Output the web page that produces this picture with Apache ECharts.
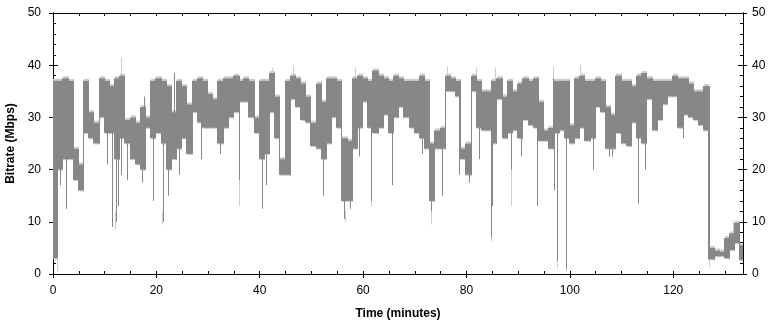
<!DOCTYPE html>
<html>
<head>
<meta charset="utf-8">
<script src="https://cdn.jsdelivr.net/npm/echarts@6.0.0/dist/echarts.min.js"></script>
<style>
html, body { margin: 0; padding: 0; background: #fff; }
#main { width: 775px; height: 324px; }
</style>
</head>
<body>
<div id="main"></div>
<script>
// core band of the bitrate trace per minute (Mbps), minute 0 .. 133
var hiVals = [37, 37, 37.5, 37, 24, 21, 37, 31, 29, 37.5,
  37, 36, 37.5, 38, 29.5, 30, 29, 32, 30, 37,
  37.5, 37, 36, 31, 37, 36, 32.5, 37, 37.5, 37,
  34.5, 33.5, 37, 37.5, 37.5, 38, 37, 37.5, 37, 30,
  37, 37, 38.5, 34, 22, 37, 38, 37.5, 36.5, 34,
  29, 36.5, 33, 37.5, 37.5, 37, 26, 25.5, 37.5, 38,
  37.5, 37, 39, 38, 37.5, 37, 38, 37.5, 37, 37,
  37, 38, 37, 25, 27.5, 28, 38, 37.5, 37, 24,
  25, 38, 37, 35, 35, 37, 37.5, 34, 37, 35,
  36.5, 37.5, 37, 37.5, 33, 27.5, 28, 37, 37, 37,
  28.5, 37.5, 38, 37, 37, 37.5, 37, 32, 30.5, 38,
  37, 37, 36, 38, 38.5, 37.5, 37, 37, 37, 37,
  38, 37.5, 37.5, 36.5, 35, 35, 36, 5, 4.5, 4.3,
  6.9, 7.8, 9.8, 5.5];
var loVals = [3, 20, 22, 22, 18, 16, 27, 26, 25, 30,
  27, 27, 22, 26, 25, 22, 21, 20, 28, 26,
  27, 25, 20, 22, 24, 26, 23, 31, 29, 28,
  28, 28, 25, 28, 30, 31, 33, 33, 30, 27,
  22, 23, 31, 26, 19, 19, 33.5, 32, 29.5, 29,
  24.5, 24, 22, 25, 30, 28, 14, 14, 24, 28,
  33, 28, 27, 28, 30.5, 27, 30, 32, 30, 28,
  27, 26, 24, 14, 24, 24, 35, 35, 34, 22,
  19, 35, 28, 27.5, 27.5, 25, 33.5, 26, 27, 27.5,
  26, 29.5, 28.5, 28, 25.5, 25.5, 24, 27, 27.5, 26,
  25, 26, 28, 25.5, 26, 32, 31, 24, 24, 27,
  25, 24.5, 29, 26, 25, 33.5, 27.5, 29.5, 32.5, 34,
  34, 28, 30.5, 30, 29.5, 28.5, 27.5, 2.8, 3.4, 3.4,
  3, 4.6, 5.9, 2.7];

// narrow drops below the band: time (min), lowest value
var dipTimes = [1.3, 2.5, 10.5, 11.4, 12.2, 12.6, 13.2, 14.3, 17.2, 19.4, 21.2, 22.2, 24.3, 28.6, 32.4, 35.9, 40.4, 41.3, 52.3, 56.3,
  57.5, 59.3, 61.5, 65.6, 71.3, 73.1, 75.3, 78.6, 80.4, 82.5, 84.7, 85.0, 88.6, 90.5, 93.6, 96.9, 97.6, 99.3, 104.5, 107.5,
  108.1, 113.1, 114.5, 121.8, 126.95];
var dipVals = [17, 12.5, 21, 9, 10, 13, 19, 18, 17.5, 14, 10, 15, 19, 22, 23, 18, 12.5, 17, 15, 10.5,
  12.5, 22.5, 14, 17, 23, 12, 15, 19, 17.5, 22, 7, 13, 20, 22.5, 13, 16, 2.5, 1, 20, 22.5,
  22.5, 13.5, 20, 26, 3];

// narrow rises above the band
var riseTimes = [17.6, 23.4, 96.8];
var riseVals = [34, 38.5, 37.5];

// faint light-grey peaks around the trace
var spikeTimes = [0.7, 12.0, 13.1, 21.1, 35.9, 42.3, 46.5, 56.4, 58.5, 61.6, 73.1, 76.2, 81.8, 84.8, 85.6, 88.7, 96.8, 97.6, 99.3, 102, 126.9, 131.5];
var spikeBase  = [5, 12, 37, 12, 18, 37, 37, 12, 37, 15, 13, 37, 37, 8, 37, 20, 37, 3, 2, 37, 3, 7];
var spikeTip   = [0.5, 8.5, 41.5, 9.5, 13, 39.5, 40, 10, 39.5, 13, 9.5, 39.8, 39.5, 6.2, 39.5, 13, 39.8, 1, 0.3, 40, 1.3, 10.3];

var xMajorTicks = [0, 20, 40, 60, 80, 100, 120];
var xMinorTicks = [0, 5, 10, 15, 20, 25, 30, 35, 40, 45, 50, 55, 60, 65, 70, 75, 80, 85, 90, 95, 100, 105, 110, 115, 120, 125, 130];
var xMax = 133.5;
var yMax = 50, yStep = 10;

var font = 'Liberation Sans, Arial, sans-serif';
var dark = '#878787', light = '#cdcdcd';

var bandData = [];
for (var i = 0; i < hiVals.length; i++) {
  var nx = Math.min(i + 1, hiVals.length - 1);
  bandData.push([i, hiVals[i], loVals[i], hiVals[nx], loVals[nx]]);
}
var strokeData = [];
for (var j = 0; j < dipTimes.length; j++) {
  strokeData.push([dipTimes[j], hiVals[Math.floor(dipTimes[j])], dipVals[j]]);
}
for (var k = 0; k < riseTimes.length; k++) {
  strokeData.push([riseTimes[k], loVals[Math.floor(riseTimes[k])], riseVals[k]]);
}
var spikeData = [];
for (var m = 0; m < spikeTimes.length; m++) {
  spikeData.push([spikeTimes[m], spikeBase[m], spikeTip[m]]);
}

// one block per minute, plus a joint to the next minute so the trace stays connected
function renderBand(params, api) {
  var t = api.value(0), hi = api.value(1), lo = api.value(2);
  var hiN = api.value(3), loN = api.value(4);
  var p0 = api.coord([t, hi]);
  var p1 = api.coord([Math.min(t + 1, xMax), lo]);
  var x0 = Math.round(p0[0]), x1 = Math.round(p1[0]);
  var j0 = api.coord([t + 1, Math.max(hi, hiN)]);
  var j1 = api.coord([t + 1, Math.min(lo, loN)]);
  return {
    type: 'group',
    children: [
      // light fringe over and under the block
      { type: 'rect', shape: { x: x0, y: p0[1] - 2, width: x1 - x0, height: 2 }, style: { fill: light } },
      { type: 'rect', shape: { x: x0, y: p1[1], width: x1 - x0, height: 1 }, style: { fill: light } },
      { type: 'rect', shape: { x: x0, y: p0[1], width: x1 - x0, height: p1[1] - p0[1] }, style: { fill: dark } },
      { type: 'rect', shape: { x: x1 - 1, y: j0[1], width: 1, height: j1[1] - j0[1] }, style: { fill: dark } }
    ]
  };
}

function strokeRenderer(color) {
  return function (params, api) {
    var a = api.coord([api.value(0), api.value(1)]);
    var b = api.coord([api.value(0), api.value(2)]);
    var x = Math.round(a[0]) + 0.5;
    return { type: 'line', shape: { x1: x, y1: a[1], x2: x, y2: b[1] }, style: { stroke: color, lineWidth: 1 } };
  };
}

var myChart = echarts.init(document.getElementById('main'));

function xAx(pos, opts) {
  var a = {
    type: 'value', position: pos, min: 0, max: xMax,
    axisLine: { show: true, onZero: false, lineStyle: { color: '#000', width: 1 } },
    axisTick: { show: true, inside: opts.inside, length: opts.len, customValues: opts.ticks, lineStyle: { color: '#000' } },
    axisLabel: { show: false },
    splitLine: { show: false }
  };
  if (opts.labels) {
    a.axisLabel = { show: true, customValues: xMajorTicks, color: '#000', fontSize: 12, fontFamily: font, margin: 11 };
    a.name = 'Time (minutes)';
    a.nameLocation = 'middle';
    a.nameGap = 34;
    a.nameTextStyle = { color: '#000', fontSize: 12, fontWeight: 'bold', fontFamily: font };
  }
  return a;
}

function yAx(pos, opts) {
  var a = {
    type: 'value', position: pos, min: 0, max: yMax, interval: yStep,
    axisLine: { show: true, onZero: false, lineStyle: { color: '#000', width: 1 } },
    axisTick: { show: true, inside: opts.inside, length: opts.len, lineStyle: { color: '#000' } },
    minorTick: { show: !!opts.minor, splitNumber: 5, length: 3, lineStyle: { color: '#000' } },
    axisLabel: { show: !!opts.labels, color: '#000', fontSize: 12, fontFamily: font, margin: opts.margin || 9 },
    splitLine: { show: false }
  };
  if (opts.title) {
    a.name = 'Bitrate (Mbps)';
    a.nameLocation = 'middle';
    a.nameGap = 31;
    a.nameTextStyle = { color: '#000', fontSize: 12, fontWeight: 'bold', fontFamily: font };
  }
  return a;
}

var option = {
  animation: false,
  backgroundColor: '#fff',
  grid: { left: 53, right: 32, top: 13, bottom: 50, containLabel: false, outerBoundsMode: 'none' },
  xAxis: [
    xAx('bottom', { inside: false, len: 4, ticks: xMajorTicks, labels: true }),
    xAx('bottom', { inside: true, len: 3, ticks: xMinorTicks }),
    xAx('top', { inside: true, len: 3, ticks: xMinorTicks })
  ],
  yAxis: [
    yAx('left', { inside: true, len: 5, minor: true, labels: true, title: true, margin: 12 }),
    yAx('left', { inside: false, len: 4 }),
    yAx('right', { inside: true, len: 5, minor: true, labels: true, margin: 9 }),
    yAx('right', { inside: false, len: 4 })
  ],
  series: [
    {
      name: 'peaks',
      type: 'custom',
      renderItem: strokeRenderer(light),
      data: spikeData,
      clip: true,
      z: 1,
      silent: true
    },
    {
      name: 'band',
      type: 'custom',
      renderItem: renderBand,
      data: bandData,
      clip: true,
      z: 2,
      silent: true
    },
    {
      name: 'strokes',
      type: 'custom',
      renderItem: strokeRenderer(dark),
      data: strokeData,
      clip: true,
      z: 3,
      silent: true
    }
  ]
};

myChart.setOption(option);
</script>
</body>
</html>
